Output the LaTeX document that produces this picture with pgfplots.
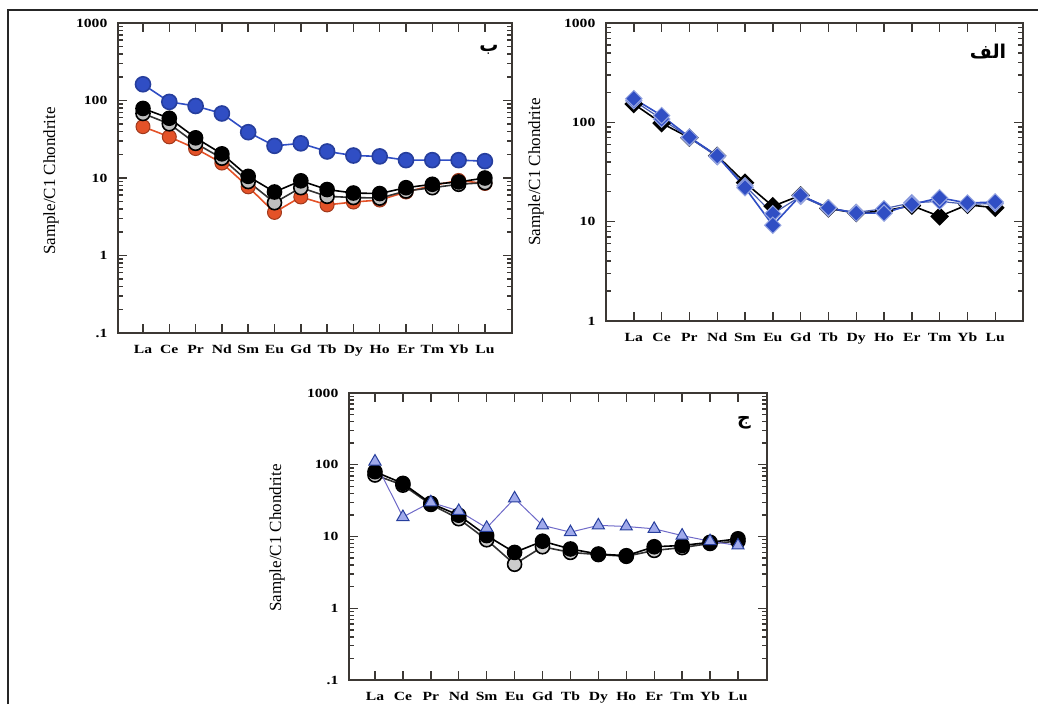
\documentclass[border=0pt]{standalone}
\usepackage{fontspec}
\setmainfont{Liberation Serif}
\newfontfamily\arabicfont[Script=Arabic]{DejaVu Sans}
\TeXXeTstate=1
\usepackage{pgfplots}
\usepackage{pgfplotstable}
\pgfplotsset{compat=1.18}
\definecolor{sblue}{RGB}{48,78,196}
\definecolor{sred}{RGB}{228,82,40}
\definecolor{tblue}{RGB}{110,105,200}
\definecolor{tfill}{RGB}{160,170,235}
\definecolor{axgray}{RGB}{60,56,52}

\pgfplotstableread{
x blue blackf blacko red
0 162 79 68 46
1 96 59 50 34
2 85 33 28 24
3 68 20.5 18 15.6
4 39 10.5 9 7.7
5 26 6.6 4.8 3.6
6 28 9.2 7.5 5.7
7 22 7.1 5.8 4.5
8 19.5 6.4 5.6 4.9
9 19 6.3 5.5 5.2
10 17 7.5 6.8 6.6
11 17 8.3 7.5 8.0
12 17 8.9 8.3 9.3
13 16.5 10 8.7 8.5
}\tabB

\pgfplotstableread{
x black blueA blueB
0 153 173 165
1 98 117 108
2 70 71 70
3 46 46 45
4 24.7 22 23
5 14.3 9.2 12
6 18.4 18.4 18
7 13.6 13.8 13.6
8 12.2 12.2 12.4
9 12.8 12.2 13.5
10 14.5 14.9 15.5
11 11.3 17.4 16
12 14.8 15.4 15
13 13.8 15.8 15.2
}\tabA

\pgfplotstableread{
x tri blackf blacko
0 111 80 72
1 18.7 55 52
2 30 29 28
3 22.7 19.8 17.7
4 13.2 10.3 9
5 34 6 4.1
6 14.3 8.6 7.2
7 11.5 6.7 6.0
8 14.3 5.7 5.6
9 13.8 5.4 5.3
10 12.8 7.2 6.4
11 10.3 7.5 7.0
12 8.6 8.3 8.0
13 7.5 9.3 8.6
}\tabC

\pgfplotsset{
    xtick={0,...,13},
    xticklabels={La,Ce,Pr,Nd,Sm,Eu,Gd,Tb,Dy,Ho,Er,Tm,Yb,Lu},
    ticklabel style={font=\bfseries\fontsize{12.5}{12.5}\selectfont, xscale=1.25},
    xticklabel style={yshift=-8pt, text height=9pt, text depth=3pt},
    yticklabel style={xshift=-5pt},
    axis line style={line width=2.2pt, axgray},
    major tick length=9pt, minor tick length=5pt,
    every tick/.style={line width=1.4pt, axgray},
    tick align=inside,
    xtick pos=both, ytick pos=both,
}

\begin{document}
\begin{tikzpicture}[x=1pt,y=1pt]
\path[use as bounding box] (0,0) rectangle (1038,-704);
\draw[line width=2pt, black!85] (8,-704) -- (8,-10) -- (1038,-10);

% Panel b (top left)
\begin{axis}[ymode=log, anchor=south west, scale only axis,
  at={(118pt,-333pt)}, width=394pt, height=310pt,
  xmin=-0.95, xmax=14.03, ymin=0.1, ymax=1000,
  ytick={0.1,1,10,100,1000}, yticklabels={.1,1,10,100,1000},
  minor ytick={0.2,0.3,0.4,0.5,0.6,0.7,0.8,0.9,2,3,4,5,6,7,8,9,20,30,40,50,60,70,80,90,200,300,400,500,600,700,800,900}]
\addplot[sred, line width=1.6pt, mark=*, mark size=7pt, mark options={fill=sred, draw=sred!70!black, line width=1pt}] table[x=x,y=red] {\tabB};
\addplot[black!80, line width=1.6pt, mark=*, mark size=7pt, mark options={fill=gray!50, draw=black, line width=1.6pt}] table[x=x,y=blacko] {\tabB};
\addplot[black, line width=1.6pt, mark=*, mark size=7pt, mark options={fill=black, draw=black}] table[x=x,y=blackf] {\tabB};
\addplot[sblue, line width=1.6pt, mark=*, mark size=7.5pt, mark options={fill=sblue, draw=sblue!80!black}] table[x=x,y=blue] {\tabB};
\end{axis}

% Panel alef (top right)
\begin{axis}[ymode=log, anchor=south west, scale only axis,
  at={(606pt,-321pt)}, width=417pt, height=298pt,
  xmin=-1.0, xmax=14.0, ymin=1, ymax=1000,
  ytick={1,10,100,1000}, yticklabels={1,10,100,1000},
  minor ytick={2,3,4,5,6,7,8,9,20,30,40,50,60,70,80,90,200,300,400,500,600,700,800,900}]
\addplot[black, line width=1.6pt, mark=square*, mark size=5.8pt, mark options={rotate=45, fill=black, draw=black}] table[x=x,y=black] {\tabA};
\addplot[sblue!70!gray, line width=1.2pt, mark=square*, mark size=5.8pt, mark options={rotate=45, fill=sblue, draw=sblue!50!white, line width=1pt}] table[x=x,y=blueB] {\tabA};
\addplot[sblue, line width=1.6pt, mark=square*, mark size=5.8pt, mark options={rotate=45, fill=sblue, draw=sblue!50!white, line width=1pt}] table[x=x,y=blueA] {\tabA};
\end{axis}

% Panel jim (bottom)
\begin{axis}[ymode=log, anchor=south west, scale only axis,
  at={(349pt,-680pt)}, width=418pt, height=287pt,
  xmin=-0.93, xmax=14.04, ymin=0.1, ymax=1000,
  ytick={0.1,1,10,100,1000}, yticklabels={.1,1,10,100,1000},
  minor ytick={0.2,0.3,0.4,0.5,0.6,0.7,0.8,0.9,2,3,4,5,6,7,8,9,20,30,40,50,60,70,80,90,200,300,400,500,600,700,800,900}]
\addplot[black!80, line width=1.6pt, mark=*, mark size=7pt, mark options={fill=gray!40, draw=black, line width=1.6pt}] table[x=x,y=blacko] {\tabC};
\addplot[black, line width=1.6pt, mark=*, mark size=7pt, mark options={fill=black, draw=black}] table[x=x,y=blackf] {\tabC};
\addplot[tblue, line width=1pt, mark=triangle*, mark size=7pt, mark options={fill=tfill, draw=sblue!80!black, line width=1pt}] table[x=x,y=tri] {\tabC};
\end{axis}

% Y labels
\node[rotate=90, font=\fontsize{17}{17}\selectfont] at (51,-181) {Sample/C1 Chondrite};
\node[rotate=90, font=\fontsize{17}{17}\selectfont] at (536,-172) {Sample/C1 Chondrite};
\node[rotate=90, font=\fontsize{17}{17}\selectfont] at (277,-538) {Sample/C1 Chondrite};

% Panel letters
\node[font=\arabicfont\bfseries\fontsize{19}{19}\selectfont] at (489,-50) {\beginR ب\endR};
\node[font=\arabicfont\bfseries\fontsize{19}{19}\selectfont] at (988,-52) {\beginR الف\endR};
\node[font=\arabicfont\bfseries\fontsize{19}{19}\selectfont] at (744,-423) {\beginR ج\endR};
\end{tikzpicture}
\end{document}
